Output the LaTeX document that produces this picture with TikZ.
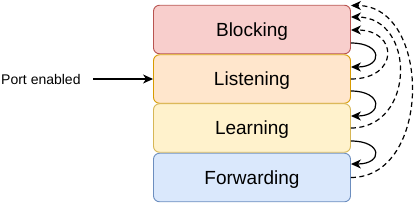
\documentclass[tikz,border=0pt]{standalone}
\usepackage{fontspec}
\setmainfont{Liberation Sans}
\usetikzlibrary{arrows.meta}
\definecolor{redfill}{HTML}{F8CECC}\definecolor{redline}{HTML}{B85450}
\definecolor{orfill}{HTML}{FFE6CC}\definecolor{orline}{HTML}{D79B00}
\definecolor{yefill}{HTML}{FFF2CC}\definecolor{yeline}{HTML}{D6B656}
\definecolor{blfill}{HTML}{DAE8FC}\definecolor{blline}{HTML}{6C8EBF}
\tikzset{
  state/.style={draw, rounded corners=6pt, minimum width=197pt, minimum height=48.5pt, inner sep=0pt, text depth=0pt, font=\fontsize{19}{21}\selectfont, line width=0.9pt},
  arr/.style={line width=1.2pt, -{Stealth[length=10pt,width=9pt,inset=3pt]}},
  darr/.style={arr, dash pattern=on 5pt off 3.5pt},
}
\begin{document}
\begin{tikzpicture}[x=1pt,y=-1pt]
\useasboundingbox (0,0) rectangle (417,210);
\node[state, fill=redfill, draw=redline] (bl) at (252,29.5) {Blocking};
\node[state, fill=orfill, draw=orline] (li) at (252,79) {Listening};
\node[state, fill=yefill, draw=yeline] (le) at (252,128) {Learning};
\node[state, fill=blfill, draw=blline] (fw) at (252,177.5) {Forwarding};
\node[anchor=west, inner sep=0pt, text depth=0pt, font=\fontsize{14}{16}\selectfont] (pe) at (1,79.5) {Port enabled};
\coordinate (pes) at (93,79);
\draw[arr] (pes) -- (li.west);
% solid transitions
\draw[arr] ([yshift=-13.5pt]bl.east) .. controls +(32,0) and +(32,0) .. ([yshift=12pt]li.east);
\draw[arr] ([yshift=-12pt]li.east) .. controls +(32,0) and +(32,0) .. ([yshift=12pt]le.east);
\draw[arr] ([yshift=-13pt]le.east) .. controls +(32,0) and +(32,0) .. ([yshift=13.5pt]fw.east);
% dashed returns
\draw[darr] (li.east) .. controls +(48,0) and +(48,0) .. ([yshift=-0.5pt]bl.east);
\draw[darr] (le.east) .. controls +(65,0) and +(65,0) .. ([yshift=12.5pt]bl.east);
\draw[darr] (fw.east) .. controls +(81,0) and +(81,0) .. ([yshift=24pt]bl.east);
\end{tikzpicture}
\end{document}
